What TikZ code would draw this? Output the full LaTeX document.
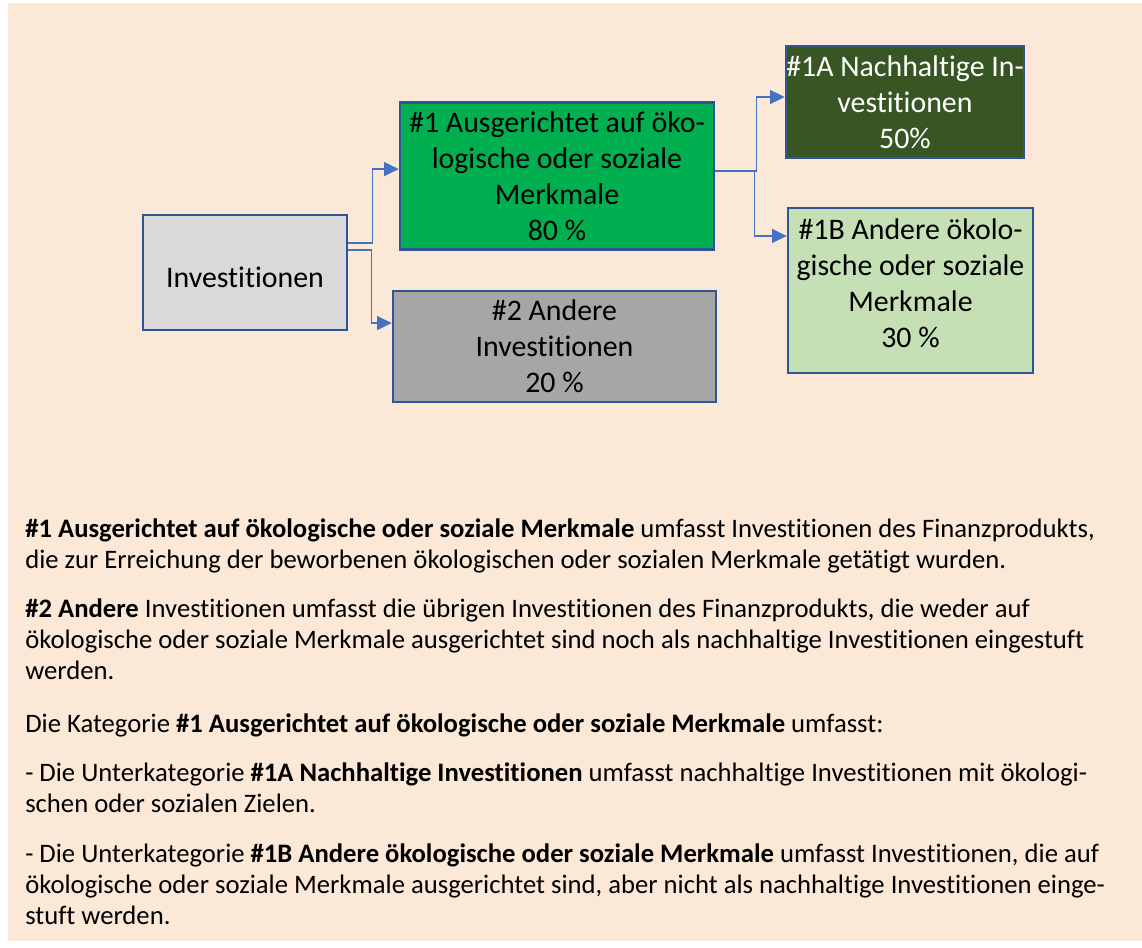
\documentclass[tikz,border=0pt]{standalone}
\usepackage{fontspec}
\setmainfont{Carlito}[Ligatures=NoCommon]
\usetikzlibrary{arrows.meta}
\definecolor{paper}{HTML}{FBE8D7}
\definecolor{frameblue}{HTML}{2F5597}
\definecolor{linkblue}{HTML}{4472C4}
\definecolor{greenmid}{HTML}{00B050}
\definecolor{greendark}{HTML}{375623}
\definecolor{greenlight}{HTML}{C5E0B4}
\definecolor{greylight}{HTML}{D9D9D9}
\definecolor{greymid}{HTML}{A6A6A6}
\begin{document}
\begin{tikzpicture}[x=0.75pt,y=-0.75pt,
  box/.style={draw=frameblue,line width=1.9pt,align=center,inner sep=0pt,font=\fontsize{22.4}{27}\selectfont},
  link/.style={draw=linkblue,line width=0.9pt,-{Triangle[length=11pt,width=10.5pt]}},
  para/.style={anchor=base west,align=left,inner sep=0pt,font=\fontsize{20}{23.25}\selectfont}]
\useasboundingbox (0,0) rectangle (1142,948);
\fill[white] (0,0) rectangle (1142,948);
\fill[paper] (8,3) rectangle (1142,941);
% boxes
\node[box,fill=greylight,minimum width=153pt,minimum height=86.25pt,text height=23pt,text depth=0pt] (inv) at (245,272.5) {Investitionen};
\node[box,fill=greenmid,minimum width=235.5pt,minimum height=110.25pt] (sa) at (557,176) {\#1 Ausgerichtet auf öko-\\logische oder soziale\\Merkmale\\80 \%};
\node[box,fill=greymid,minimum width=242.25pt,minimum height=83.25pt] (oth) at (554.5,346.5) {\#2 Andere\\Investitionen\\20 \%};
\node[box,fill=greendark,text=white,minimum width=178.5pt,minimum height=84pt] (sus) at (905,102) {\#1A Nachhaltige In-\\vestitionen\\50\%};
\node[box,fill=greenlight,minimum width=183.75pt,minimum height=123.75pt,text depth=10.5pt] (eso) at (910.5,290.5) {\#1B Andere ökolo-\\gische oder soziale\\Merkmale\\30 \%};
% connectors
\draw[link] ([yshift=22.1pt]inv.east) -- ++(24,0) |- ([yshift=5.2pt]sa.west);
\draw[link] ([yshift=16.9pt]inv.east) -- ++(23,0) |- ([yshift=17.6pt]oth.west);
\draw[link] ([yshift=3.7pt]sa.east) -- ++(41,0) |- ([yshift=3.75pt]sus.west);
\draw[link] ([yshift=3.1pt]sa.east) -- ++(39,0) |- ([yshift=40.9pt]eso.west);
% text
\node[para] (p1) at (25,568) {\textbf{\#1 Ausgerichtet auf ökologische oder soziale Merkmale} umfasst Investitionen des Finanzprodukts,\\die zur Erreichung der beworbenen ökologischen oder sozialen Merkmale getätigt wurden.};
\node[para] (p2) at (25,679) {\textbf{\#2 Andere} Investitionen umfasst die übrigen Investitionen des Finanzprodukts, die weder auf\\ökologische oder soziale Merkmale ausgerichtet sind noch als nachhaltige Investitionen eingestuft\\werden.};
\node[para] (p3) at (25,732) {Die Kategorie \textbf{\#1 Ausgerichtet auf ökologische oder soziale Merkmale} umfasst:};
\node[para] (p4) at (25,812) {- Die Unterkategorie \textbf{\#1A Nachhaltige Investitionen} umfasst nachhaltige Investitionen mit ökologi-\\schen oder sozialen Zielen.};
\node[para] (p5) at (25,924) {- Die Unterkategorie \textbf{\#1B Andere ökologische oder soziale Merkmale} umfasst Investitionen, die auf\\ökologische oder soziale Merkmale ausgerichtet sind, aber nicht als nachhaltige Investitionen einge-\\stuft werden.};
\end{tikzpicture}
\end{document}
